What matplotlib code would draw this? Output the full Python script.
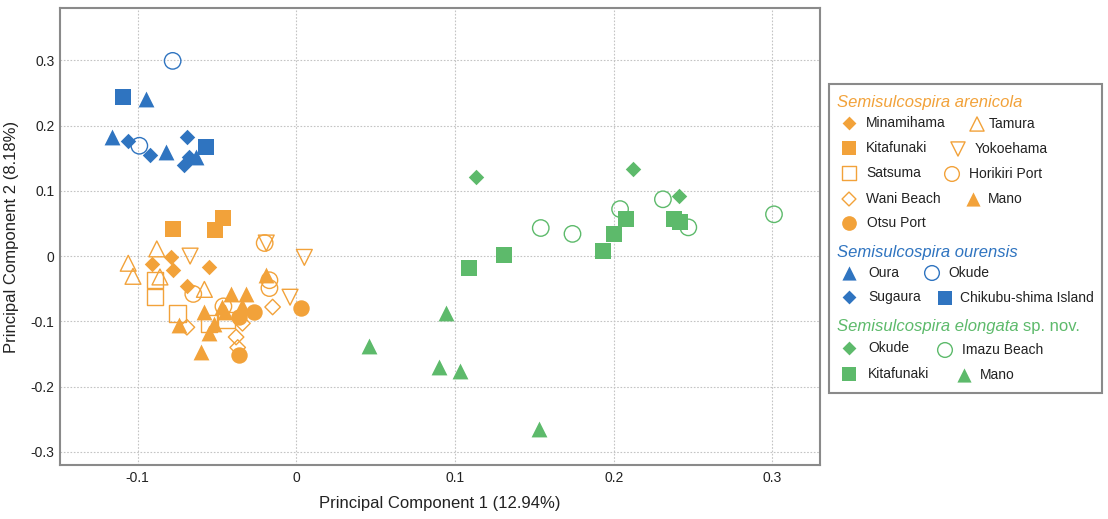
import numpy as np
import matplotlib
matplotlib.use("Agg")
import matplotlib.pyplot as plt
from matplotlib.patches import Rectangle

plt.rcParams['font.family'] = ['Liberation Sans', 'DejaVu Sans']

# colours of the three species
ORANGE = '#F2A23A'
BLUE = '#2F74C0'
GREEN = '#5DBA6B'

# --- S. arenicola (PC1, PC2) ---
are_minamihama_x = [-0.091, -0.079, -0.078, -0.055, -0.069]
are_minamihama_y = [-0.012, -0.002, -0.021, -0.017, -0.046]
are_kitafunaki_x = [-0.078, -0.046, -0.051]
are_kitafunaki_y = [0.041, 0.058, 0.040]
are_satsuma_x = [-0.089, -0.089, -0.075, -0.055, -0.044]
are_satsuma_y = [-0.037, -0.063, -0.088, -0.103, -0.098]
are_wani_x = [-0.069, -0.015, -0.038, -0.037, -0.034]
are_wani_y = [-0.109, -0.078, -0.124, -0.140, -0.103]
are_otsu_x = [-0.036, -0.027, -0.036, 0.003]
are_otsu_y = [-0.094, -0.086, -0.152, -0.080]
are_tamura_x = [-0.106, -0.103, -0.088, -0.086, -0.058]
are_tamura_y = [-0.011, -0.031, 0.011, -0.032, -0.051]
are_yokoehama_x = [-0.067, -0.019, 0.005, -0.004]
are_yokoehama_y = [0.000, 0.020, -0.002, -0.063]
are_horikiri_x = [-0.065, -0.020, -0.017, -0.017, -0.046]
are_horikiri_y = [-0.058, 0.020, -0.037, -0.049, -0.077]
are_mano_x = [-0.074, -0.058, -0.060, -0.041, -0.032, -0.019, -0.052, -0.055, -0.047, -0.034, -0.045]
are_mano_y = [-0.106, -0.086, -0.147, -0.058, -0.058, -0.029, -0.104, -0.118, -0.078, -0.077, -0.086]

# --- S. ourensis ---
our_oura_x = [-0.095, -0.116, -0.082, -0.063]
our_oura_y = [0.241, 0.183, 0.160, 0.152]
our_okude_x = [-0.078, -0.099]
our_okude_y = [0.299, 0.169]
our_sugaura_x = [-0.106, -0.092, -0.069, -0.071, -0.068]
our_sugaura_y = [0.176, 0.155, 0.182, 0.140, 0.152]
our_chikubu_x = [-0.109, -0.057]
our_chikubu_y = [0.244, 0.167]

# --- S. elongata sp. nov. ---
elo_okude_x = [0.113, 0.212, 0.241]
elo_okude_y = [0.121, 0.133, 0.092]
elo_imazu_x = [0.154, 0.174, 0.204, 0.231, 0.247, 0.301]
elo_imazu_y = [0.043, 0.034, 0.072, 0.087, 0.044, 0.064]
elo_kitafunaki_x = [0.109, 0.131, 0.193, 0.200, 0.208, 0.238, 0.242]
elo_kitafunaki_y = [-0.018, 0.002, 0.008, 0.034, 0.057, 0.057, 0.052]
elo_mano_x = [0.046, 0.094, 0.090, 0.103, 0.153]
elo_mano_y = [-0.137, -0.087, -0.170, -0.176, -0.265]

x_ticks = [-0.1, 0, 0.1, 0.2, 0.3]
x_ticklabels = ['-0.1', '0', '0.1', '0.2', '0.3']
y_ticks = [-0.3, -0.2, -0.1, 0, 0.1, 0.2, 0.3]
y_ticklabels = ['-0.3', '-0.2', '-0.1', '0', '0.1', '0.2', '0.3']

# marker -> scatter size
SIZES = {'s': 140, 'o': 140, '^': 130, 'v': 130, 'D': 62}

# (colour, marker, filled, x, y)
series = [
    (ORANGE, 's', False, are_satsuma_x, are_satsuma_y),
    (ORANGE, 'D', False, are_wani_x, are_wani_y),
    (ORANGE, '^', False, are_tamura_x, are_tamura_y),
    (ORANGE, 'v', False, are_yokoehama_x, are_yokoehama_y),
    (ORANGE, 'o', False, are_horikiri_x, are_horikiri_y),
    (ORANGE, 'D', True, are_minamihama_x, are_minamihama_y),
    (ORANGE, 's', True, are_kitafunaki_x, are_kitafunaki_y),
    (ORANGE, '^', True, are_mano_x, are_mano_y),
    (ORANGE, 'o', True, are_otsu_x, are_otsu_y),
    (BLUE, 'o', False, our_okude_x, our_okude_y),
    (BLUE, '^', True, our_oura_x, our_oura_y),
    (BLUE, 'D', True, our_sugaura_x, our_sugaura_y),
    (BLUE, 's', True, our_chikubu_x, our_chikubu_y),
    (GREEN, 'o', False, elo_imazu_x, elo_imazu_y),
    (GREEN, 'D', True, elo_okude_x, elo_okude_y),
    (GREEN, 's', True, elo_kitafunaki_x, elo_kitafunaki_y),
    (GREEN, '^', True, elo_mano_x, elo_mano_y),
]

W, H = 1108, 519
fig = plt.figure(figsize=(W / 100, H / 100), dpi=100)
ax = fig.add_axes([60 / W, 1 - 465 / H, 760 / W, 457 / H])

for col, mk, filled, xs, ys in series:
    if filled:
        ax.scatter(xs, ys, s=SIZES[mk], marker=mk, color=col, linewidths=0, zorder=3)
    else:
        ax.scatter(xs, ys, s=SIZES[mk], marker=mk, facecolors='none',
                   edgecolors=col, linewidths=1.0, zorder=3)

ax.set_xlim(-0.149, 0.330)
ax.set_ylim(-0.320, 0.380)
ax.set_xticks(x_ticks)
ax.set_xticklabels(x_ticklabels)
ax.set_yticks(y_ticks)
ax.set_yticklabels(y_ticklabels)
ax.tick_params(length=0, pad=4, labelsize=10, labelcolor='#222222')
ax.grid(True, linestyle=(0, (1.5, 1.5)), color='#c4c4c4', linewidth=0.8)
ax.set_axisbelow(True)
for sp in ax.spines.values():
    sp.set_color('#8a8a8a')
    sp.set_linewidth(1.5)
ax.set_xlabel('Principal Component 1 (12.94%)', fontsize=12, color='#222222', labelpad=8)
ax.set_ylabel('Principal Component 2 (8.18%)', fontsize=12, color='#222222', labelpad=8)

# ---- hand-laid legend in pixel coordinates ----
lg = fig.add_axes([0, 0, 1, 1], zorder=5)
lg.set_xlim(0, W)
lg.set_ylim(H, 0)
lg.axis('off')
lg.add_patch(Rectangle((829, 84), 273, 309, facecolor='white',
                       edgecolor='#8a8a8a', linewidth=1.5))

def entry(mx, tx, y, col, mk, filled, label):
    s = SIZES[mk] * 0.8
    if filled:
        lg.scatter([mx], [y], s=s, marker=mk, color=col, linewidths=0)
    else:
        lg.scatter([mx], [y], s=s, marker=mk, facecolors='none', edgecolors=col, linewidths=1.0)
    lg.text(tx, y, label, fontsize=10, va='center', ha='left', color='#222222')

lg.text(837, 102, 'Semisulcospira arenicola', fontsize=12, style='italic', color=ORANGE, va='center')
entry(849, 866, 123, ORANGE, 'D', True, 'Minamihama')
entry(977, 989, 124, ORANGE, '^', False, 'Tamura')
entry(849, 866, 148, ORANGE, 's', True, 'Kitafunaki')
entry(958, 975, 149, ORANGE, 'v', False, 'Yokoehama')
entry(849, 866, 173, ORANGE, 's', False, 'Satsuma')
entry(952, 969, 174, ORANGE, 'o', False, 'Horikiri Port')
entry(849, 866, 199, ORANGE, 'D', False, 'Wani Beach')
entry(973, 988, 199, ORANGE, '^', True, 'Mano')
entry(849, 867, 223, ORANGE, 'o', True, 'Otsu Port')

lg.text(837, 252, 'Semisulcospira ourensis', fontsize=12, style='italic', color=BLUE, va='center')
entry(849, 868, 273, BLUE, '^', True, 'Oura')
entry(932, 948, 273, BLUE, 'o', False, 'Okude')
entry(849, 868, 297, BLUE, 'D', True, 'Sugaura')
entry(945, 960, 298, BLUE, 's', True, 'Chikubu-shima Island')

t = lg.text(837, 326, 'Semisulcospira elongata', fontsize=12, style='italic', color=GREEN, va='center')
fig.canvas.draw()
bb = t.get_window_extent(renderer=fig.canvas.get_renderer())
lg.text(bb.x1 + 4, 326, 'sp. nov.', fontsize=12, color=GREEN, va='center')
entry(849, 868, 348, GREEN, 'D', True, 'Okude')
entry(945, 962, 350, GREEN, 'o', False, 'Imazu Beach')
entry(849, 868, 374, GREEN, 's', True, 'Kitafunaki')
entry(964, 980, 375, GREEN, '^', True, 'Mano')

fig.savefig('out.png', dpi=100)
